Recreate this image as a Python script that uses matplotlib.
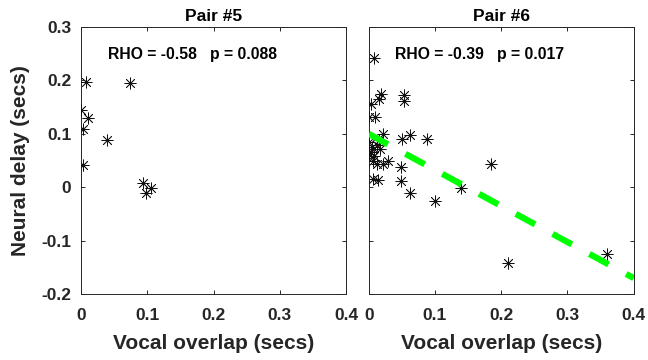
import numpy as np
import matplotlib
matplotlib.use('Agg')
import matplotlib.pyplot as plt

plt.rcParams['font.family'] = ['Liberation Sans', 'DejaVu Sans']
plt.rcParams['font.weight'] = 'bold'

# Pair #5
x5 = [0.007, 0.074, 0.000, 0.011, 0.0035, 0.039, 0.0035, 0.093, 0.098, 0.106]
y5 = [0.197, 0.195, 0.144, 0.129, 0.109, 0.088, 0.041, 0.0075, -0.011, -0.001]

# Pair #6
x6 = [0.0076, 0.018, 0.015, 0.053, 0.053, 0.003, 0.000, 0.010, 0.021, 0.050,
      0.063, 0.088, 0.000, 0.012, 0.017, 0.003, 0.0065, 0.012, 0.022, 0.029,
      0.049, 0.0065, 0.014, 0.048, 0.063, 0.100, 0.185, 0.140, 0.210, 0.360,
      0.000, 0.008, 0.016, 0.005]
y6 = [0.242, 0.175, 0.166, 0.173, 0.161, 0.156, 0.132, 0.132, 0.100, 0.090,
      0.097, 0.091, 0.085, 0.080, 0.072, 0.066, 0.050, 0.044, 0.044, 0.050,
      0.038, 0.016, 0.014, 0.011, -0.010, -0.026, 0.044, -0.002, -0.142, -0.124,
      0.062, 0.058, 0.088, 0.075]

# regression line for pair #6
fit_x = [0.0, 0.4]
fit_y = [0.1, -0.17]

titles = ['Pair #5', 'Pair #6']
stats = ['RHO = -0.58   p = 0.088', 'RHO = -0.39   p = 0.017']
xticks = [0, 0.1, 0.2, 0.3, 0.4]
xtick_labels = ['0', '0.1', '0.2', '0.3', '0.4']
yticks = [-0.2, -0.1, 0, 0.1, 0.2, 0.3]
ytick_labels = ['-0.2', '-0.1', '0', '0.1', '0.2', '0.3']

dark = '#262626'
star = (8, 2, 0)

fig = plt.figure(figsize=(6.48, 3.6), dpi=100)
ax1 = fig.add_axes([0.125, 0.183, 0.409, 0.742])
ax2 = fig.add_axes([0.569, 0.183, 0.409, 0.742])

for i, (ax, xs, ys) in enumerate([(ax1, x5, y5), (ax2, x6, y6)]):
    ax.plot(xs, ys, linestyle='none', marker=star, markersize=8.5,
            markeredgewidth=0.55, color='#111111', zorder=3)
    ax.set_xlim(0, 0.4)
    ax.set_ylim(-0.2, 0.3)
    ax.set_xticks(xticks)
    ax.set_xticklabels(xtick_labels)
    ax.set_yticks(yticks)
    if i == 0:
        ax.set_yticklabels(ytick_labels)
        ax.set_ylabel('Neural delay (secs)', fontsize=15, fontweight='bold',
                      color=dark, labelpad=8)
    else:
        ax.set_yticklabels([])
    ax.set_xlabel('Vocal overlap (secs)', fontsize=15, fontweight='bold',
                  color=dark, labelpad=8)
    ax.set_title(titles[i], fontsize=12.5, fontweight='bold', color='black', pad=4)
    ax.text(0.04, 0.249, stats[i], fontsize=11.3, fontweight='bold',
            va='center', ha='left', color='black')
    ax.tick_params(direction='in', top=True, right=True, length=3,
                   width=0.7, colors=dark, labelsize=12.5)
    ax.tick_params(axis='x', pad=10)
    ax.tick_params(axis='y', pad=7)
    for sp in ax.spines.values():
        sp.set_color(dark)
        sp.set_linewidth(0.7)

ax2.plot(fit_x, fit_y, color=(0, 1, 0), linewidth=4.5,
         dashes=(3.5, 3.2), zorder=4)

fig.savefig('out.png', dpi=100)
